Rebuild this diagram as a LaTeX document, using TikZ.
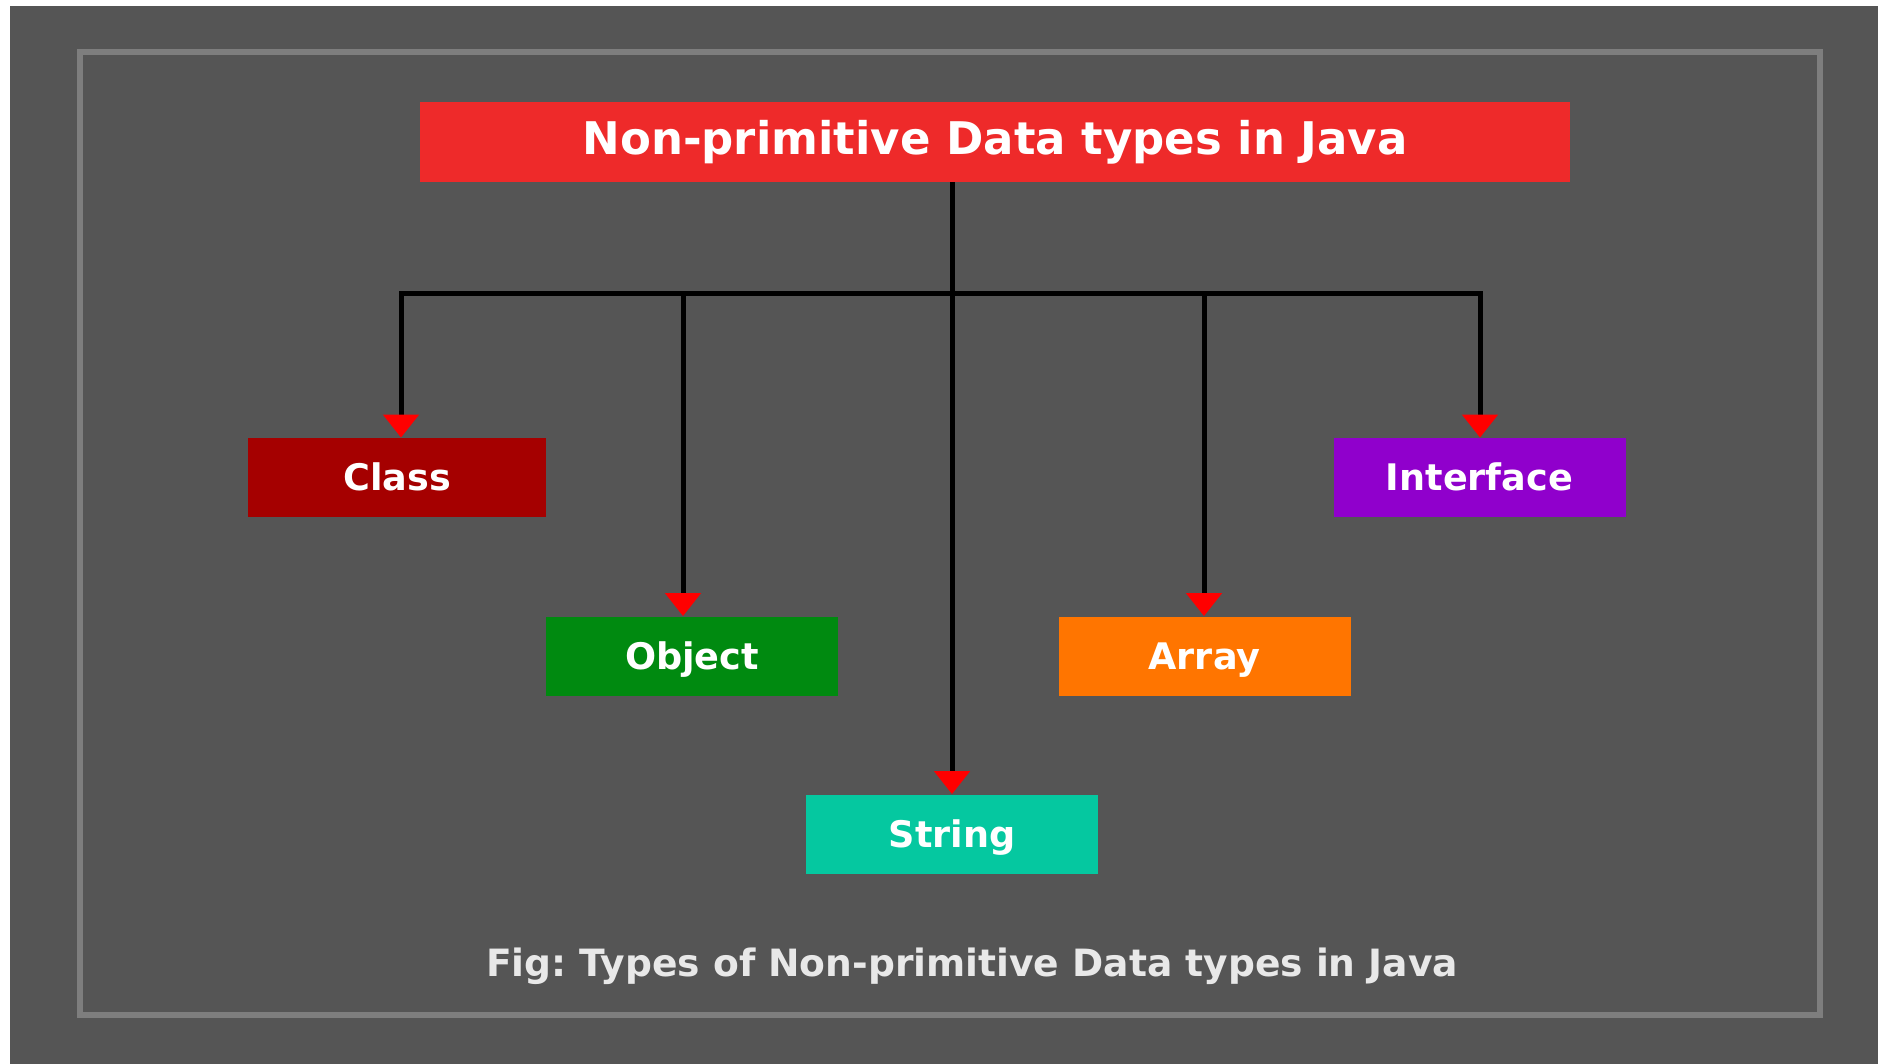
\documentclass[tikz,border=0pt]{standalone}
\usepackage{fontspec}
\setmainfont{DejaVu Sans}
\usetikzlibrary{arrows.meta}
\definecolor{bggray}{HTML}{555555}
\definecolor{framegray}{HTML}{7E7E7E}
\definecolor{titlered}{HTML}{EE2A2A}
\definecolor{classred}{HTML}{A50000}
\definecolor{objgreen}{HTML}{008A10}
\definecolor{strteal}{HTML}{05C8A0}
\definecolor{arrorange}{HTML}{FF7500}
\definecolor{intpurple}{HTML}{9000CC}
\definecolor{captiongray}{HTML}{E8E8E8}
\frenchspacing
\begin{document}
\begin{tikzpicture}[x=0.5pt,y=-0.5pt,
  typebox/.style={rectangle, inner sep=0pt, minimum width=146pt, minimum height=39.5pt,
    text height=13.2pt, text depth=0pt,
    text=white, font=\fontsize{18.3}{22}\selectfont\bfseries},
  connector/.style={black, line width=2.5pt},
  tipline/.style={connector, -{Triangle[width=17.5pt,length=11.5pt,color=red,fill=red]}}
]
\useasboundingbox (0,0) rectangle (1878,1064);
\fill[white] (0,0) rectangle (1878,1064);
\fill[bggray] (10,6) rectangle (1878,1064);
\draw[framegray, line width=3pt] (80,52) rectangle (1820,1015);

\node[rectangle, fill=titlered, inner sep=0pt, minimum width=575pt, minimum height=40pt,
  text=white, font=\fontsize{22.5}{27}\selectfont\bfseries] (title) at (995,142) {Non-primitive Data types in Java};

\node[typebox, fill=classred, minimum width=149pt] (cls) at (397,477.5) {Class};
\node[typebox, fill=objgreen] (obj) at (692,656) {Object};
\node[typebox, fill=strteal] (str) at (952,834) {String};
\node[typebox, fill=arrorange] (arr) at (1204.5,656) {Array};
\node[typebox, fill=intpurple] (itf) at (1479.5,477.5) {Interface};

\coordinate (hub) at (952,293);
\coordinate (j1) at (401,293);
\coordinate (j2) at (683,293);
\coordinate (j4) at (1204,293);
\coordinate (j5) at (1480,293);

\draw[connector] (title.south -| hub) -- (hub);
\draw[connector, line cap=rect] (j1) -- (j5);
\draw[tipline] (j1) -- (j1 |- cls.north);
\draw[tipline] (j2) -- (j2 |- obj.north);
\draw[tipline] (hub) -- (hub |- str.north);
\draw[tipline] (j4) -- (j4 |- arr.north);
\draw[tipline] (j5) -- (j5 |- itf.north);

\node[text=captiongray, font=\fontsize{18.8}{22}\selectfont\bfseries] (caption) at (972,966) {Fig: Types of Non-primitive Data types in Java};
\end{tikzpicture}
\end{document}
